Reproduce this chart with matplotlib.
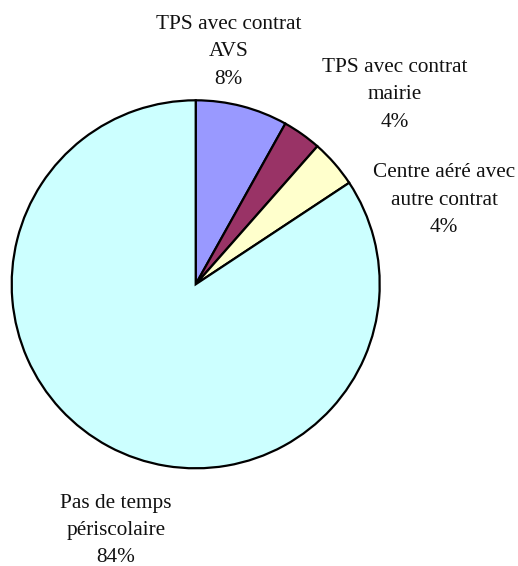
import numpy as np
import matplotlib.pyplot as plt

labels = ['TPS avec contrat\nAVS', 'TPS avec contrat\nmairie',
          'Centre aéré avec\nautre contrat', 'Pas de temps\npériscolaire']
values = [8.1, 3.4, 4.2, 84.3]
pct_text = ['8%', '4%', '4%', '84%']
colors = ['#9999FF', '#993366', '#FFFFCC', '#CCFFFF']

# label centres (middle line), in pie radius units
label_pos = [(0.18, 1.263), (1.08, 1.029), (1.35, 0.458), (-0.433, -1.336)]

W, H = 518, 566
cx, cy, R = 195.7, 284.3, 184.0

fig = plt.figure(figsize=(W / 100, H / 100), dpi=100)
ax = fig.add_axes([0, 0, 1, 1])
ax.pie(values, colors=colors, startangle=90, counterclock=False, radius=1,
       wedgeprops=dict(edgecolor='black', linewidth=1.6))
ax.set_xlim(-cx / R, (W - cx) / R)
ax.set_ylim(-(H - cy) / R, cy / R)
ax.set_aspect('auto')
ax.axis('off')

for lab, pct, (x, y) in zip(labels, pct_text, label_pos):
    ax.text(x, y, lab + '\n' + pct, ha='center', va='center',
            family='Liberation Serif', fontsize=15.3, linespacing=1.58,
            color='#111111')

fig.savefig('out.png', dpi=100)
